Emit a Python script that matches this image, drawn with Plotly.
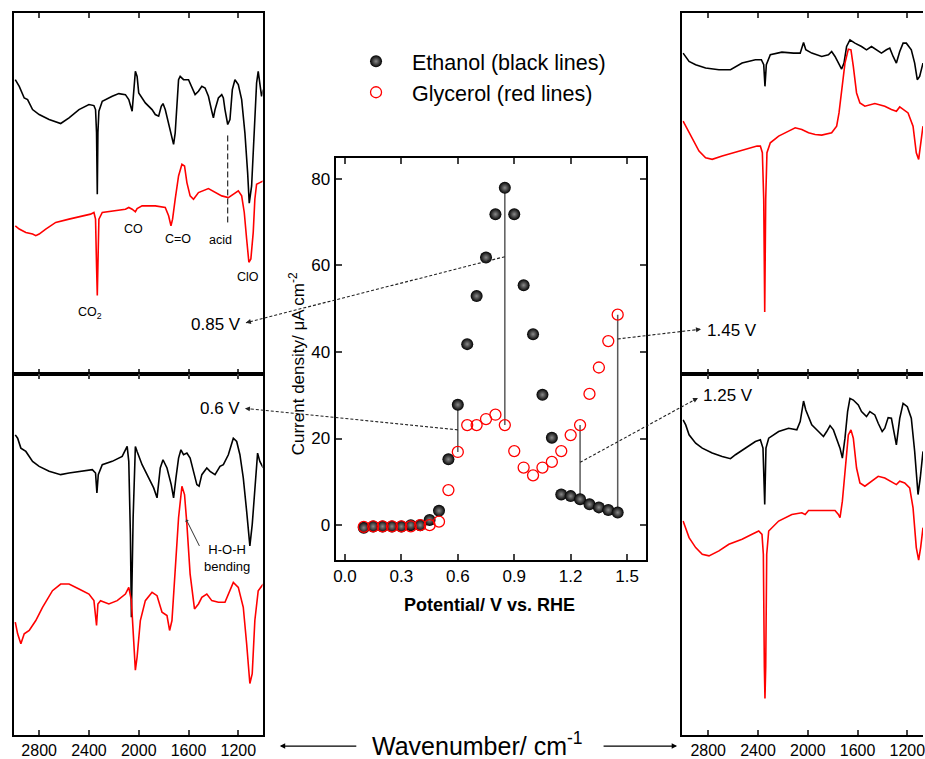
import plotly.graph_objects as go

W, H = 925, 759
FONT = "Liberation Sans, Arial, sans-serif"

# ---------------- centre plot data ----------------
potential = [0.10, 0.15, 0.20, 0.25, 0.30, 0.35, 0.40, 0.45, 0.50, 0.55, 0.60, 0.65, 0.70, 0.75,
             0.80, 0.85, 0.90, 0.95, 1.00, 1.05, 1.10, 1.15, 1.20, 1.25, 1.30, 1.35, 1.40, 1.45]
ethanol = [-0.6, -0.3, -0.3, -0.3, -0.3, 0.0, 0.0, 1.2, 3.3, 15.2, 27.8, 41.8, 52.9, 61.8,
           71.8, 77.9, 71.8, 55.4, 44.1, 30.1, 20.2, 7.1, 6.7, 6.0, 4.8, 4.1, 3.5, 2.9]
glycerol = [-0.4, -0.3, -0.3, -0.3, -0.3, -0.3, 0.0, 0.0, 0.8, 8.1, 16.9, 23.1, 23.1, 24.5,
            25.5, 23.1, 17.1, 13.3, 11.5, 13.3, 14.6, 17.1, 20.8, 23.1, 30.3, 36.4, 42.5, 48.6]
marked_potentials = [0.60, 0.85, 1.25, 1.45]
x_ticks = [0.0, 0.3, 0.6, 0.9, 1.2, 1.5]
y_ticks = [0, 20, 40, 60, 80]
wn_ticks = [2800, 2400, 2000, 1600, 1200]

# ---------------- spectra (wavenumber / cm-1, intensity a.u.) ----------------
# 0.85 V
lt_eth_wn = [2992, 2973, 2960, 2920, 2893, 2853, 2800, 2720, 2667, 2627, 2560, 2480, 2400, 2360, 2347, 2339, 2333, 2328, 2320, 2293,
             2213, 2160, 2107, 2080, 2053, 2040, 2027, 2013, 2000, 1947, 1893, 1867, 1840, 1819, 1805, 1787, 1760, 1739, 1720, 1707,
             1693, 1680, 1667, 1640, 1600, 1573, 1547, 1520, 1493, 1467, 1440, 1413, 1400, 1387, 1360, 1333, 1320, 1307, 1285, 1267,
             1248, 1227, 1200, 1173, 1147, 1125, 1112, 1093, 1072, 1053, 1040, 1027, 1013, 1000]
lt_eth_i = [960, 950, 940, 905, 900, 870, 855, 840, 834, 828, 845, 870, 885, 882, 870, 800, 615, 800, 865, 895,
            910, 918, 915, 900, 865, 920, 985, 970, 920, 890, 870, 855, 850, 880, 888, 870, 830, 790, 765, 800,
            880, 960, 970, 960, 960, 935, 915, 925, 940, 935, 910, 865, 845, 870, 905, 915, 905, 870, 825, 840,
            930, 960, 945, 900, 800, 680, 588, 640, 800, 950, 985, 950, 910, 930]
lt_gly_wn = [2992, 2960, 2907, 2853, 2827, 2800, 2747, 2667, 2560, 2453, 2387, 2360, 2347, 2339, 2333, 2328, 2320, 2293, 2187, 2107,
             2080, 2053, 2027, 2013, 1973, 1867, 1787, 1760, 1741, 1728, 1707, 1680, 1653, 1632, 1613, 1587, 1560, 1520, 1440, 1387,
             1333, 1280, 1240, 1200, 1173, 1152, 1133, 1115, 1099, 1080, 1067, 1053, 1027, 1000]
lt_gly_i = [520, 510, 500, 495, 490, 495, 510, 530, 540, 550, 555, 560, 540, 400, 310, 400, 540, 560, 565, 570,
            575, 570, 562, 572, 580, 580, 575, 550, 520, 540, 600, 670, 705, 700, 650, 610, 600, 620, 632, 622,
            610, 605, 615, 625, 610, 560, 480, 410, 420, 500, 600, 645, 650, 655]
# 0.6 V
lb_eth_wn = [2992, 2973, 2947, 2907, 2853, 2800, 2720, 2627, 2560, 2453, 2373, 2347, 2336, 2325, 2293, 2213, 2133, 2093, 2080, 2067,
             2059, 2045, 2035, 2027, 2013, 1973, 1920, 1880, 1853, 1827, 1805, 1773, 1739, 1720, 1701, 1680, 1661, 1640, 1613, 1587,
             1560, 1533, 1515, 1493, 1453, 1427, 1387, 1347, 1320, 1280, 1240, 1213, 1187, 1160, 1133, 1107, 1088, 1067, 1045, 1027,
             1000]
lb_eth_i = [1000, 990, 960, 950, 920, 905, 890, 880, 885, 890, 895, 885, 825, 880, 910, 920, 935, 965, 920, 700,
            450, 750, 900, 965, 950, 910, 870, 840, 810, 900, 925, 900, 850, 810, 870, 930, 955, 940, 945, 930,
            890, 850, 845, 880, 900, 890, 880, 905, 910, 940, 990, 980, 940, 870, 770, 665, 730, 850, 945, 920,
            900]
lb_gly_wn = [2992, 2973, 2947, 2920, 2880, 2827, 2773, 2693, 2627, 2560, 2480, 2400, 2360, 2347, 2339, 2328, 2307, 2240, 2173, 2107,
             2080, 2059, 2040, 2027, 2013, 1987, 1947, 1893, 1853, 1813, 1773, 1752, 1733, 1707, 1680, 1653, 1632, 1613, 1587, 1552,
             1520, 1493, 1453, 1413, 1360, 1307, 1267, 1240, 1200, 1160, 1133, 1107, 1088, 1067, 1040, 1000]
lb_gly_i = [435, 400, 370, 400, 410, 440, 480, 530, 550, 550, 535, 520, 500, 460, 425, 490, 500, 490, 500, 520,
            540, 500, 380, 290, 330, 440, 500, 525, 515, 465, 455, 410, 440, 580, 750, 845, 820, 730, 580, 475,
            490, 510, 520, 500, 495, 495, 530, 555, 540, 480, 370, 250, 280, 440, 530, 550]
# 1.45 V
rt_eth_wn = [3002, 2981, 2954, 2901, 2821, 2714, 2621, 2528, 2421, 2373, 2354, 2344, 2333, 2301, 2208, 2114, 2061, 2034, 2016, 1968,
             1888, 1834, 1808, 1781, 1754, 1728, 1709, 1688, 1661, 1621, 1568, 1528, 1488, 1448, 1408, 1368, 1341, 1314, 1288, 1261,
             1234, 1208, 1168, 1141, 1120, 1101, 1074]
rt_eth_i = [1040, 1030, 1015, 1005, 995, 990, 990, 1010, 1020, 1020, 1005, 940, 1005, 1035, 1043, 1040, 1040, 1072, 1050, 1040,
            1030, 1035, 1045, 1030, 1010, 992, 1010, 1060, 1080, 1070, 1060, 1050, 1060, 1050, 1040, 1050, 1055, 1030, 1010, 1045,
            1070, 1070, 1050, 1010, 960, 970, 1010]
rt_gly_wn = [3002, 2968, 2928, 2874, 2821, 2768, 2688, 2581, 2474, 2408, 2381, 2365, 2354, 2346, 2338, 2328, 2301, 2234, 2154, 2101,
             2048, 1994, 1941, 1888, 1808, 1768, 1749, 1728, 1701, 1674, 1653, 1634, 1608, 1581, 1541, 1461, 1381, 1328, 1288, 1261,
             1234, 1194, 1154, 1128, 1109, 1093, 1074]
rt_gly_i = [835, 810, 780, 745, 725, 720, 730, 742, 752, 760, 760, 740, 600, 260, 600, 740, 770, 790, 805, 815,
            810, 800, 795, 793, 800, 820, 860, 930, 1010, 1052, 1050, 1000, 920, 890, 880, 888, 880, 870, 865, 878,
            870, 860, 820, 740, 720, 760, 820]
# 1.25 V
rb_eth_wn = [3002, 2981, 2954, 2901, 2848, 2768, 2688, 2621, 2581, 2501, 2421, 2381, 2360, 2346, 2336, 2314, 2234, 2154, 2088, 2061,
             2034, 2016, 1968, 1914, 1874, 1848, 1821, 1794, 1768, 1741, 1722, 1701, 1680, 1661, 1634, 1594, 1568, 1528, 1501, 1461,
             1434, 1402, 1381, 1354, 1328, 1301, 1288, 1261, 1234, 1200, 1168, 1141, 1114, 1096, 1074]
rb_eth_i = [1045, 1030, 1000, 975, 960, 945, 935, 928, 940, 960, 980, 985, 960, 790, 960, 990, 1010, 1020, 1015, 1040,
            1102, 1075, 1030, 1010, 995, 1010, 1028, 1015, 985, 960, 930, 990, 1070, 1110, 1105, 1090, 1070, 1055, 1070, 1060,
            1035, 1010, 1020, 1052, 1050, 990, 970, 1050, 1095, 1085, 1050, 950, 820, 870, 950]
rb_gly_wn = [3002, 2981, 2954, 2901, 2848, 2794, 2714, 2634, 2528, 2448, 2394, 2368, 2357, 2349, 2344, 2338, 2330, 2314, 2234, 2128,
             2048, 2021, 1994, 1888, 1781, 1754, 1741, 1722, 1701, 1674, 1653, 1634, 1608, 1581, 1541, 1488, 1434, 1381, 1328, 1288,
             1261, 1221, 1181, 1154, 1128, 1109, 1093, 1074]
rb_gly_i = [740, 720, 690, 660, 640, 635, 650, 670, 685, 700, 710, 700, 640, 300, 205, 300, 640, 710, 740, 760,
            765, 760, 772, 772, 772, 760, 750, 800, 900, 1000, 1015, 990, 900, 855, 845, 860, 875, 870, 860, 850,
            860, 855, 840, 780, 660, 622, 660, 720]

BLACK, RED = "#000000", "#ff0000"

# ---------------- geometry helpers (pixel -> paper) ----------------
def px(x):
    return x / W

def py(y):
    return 1 - y / H

C_DOM_X = (335, 646.7)
C_DOM_Y = (159, 562)
C_RX = (-0.05, 1.6)
C_RY = (-8.0, 84.7)

def center_to_px(xv, yv):
    x = C_DOM_X[0] + (xv - C_RX[0]) / (C_RX[1] - C_RX[0]) * (C_DOM_X[1] - C_DOM_X[0])
    y = C_DOM_Y[1] - (yv - C_RY[0]) / (C_RY[1] - C_RY[0]) * (C_DOM_Y[1] - C_DOM_Y[0])
    return x, y

fig = go.Figure()

# connectors
for p in marked_potentials:
    i = min(range(len(potential)), key=lambda k: abs(potential[k] - p))
    fig.add_trace(go.Scatter(x=[potential[i], potential[i]], y=[ethanol[i], glycerol[i]], mode="lines",
                             line=dict(color="#5a5a5a", width=1.5), showlegend=False, hoverinfo="skip",
                             xaxis="x", yaxis="y"))

fig.add_trace(go.Scatter(x=potential, y=ethanol, mode="markers", name="Ethanol (black lines)",
                         marker=dict(symbol="circle", size=12, color="#000000",
                                     gradient=dict(type="radial", color="#8a8a8a"),
                                     line=dict(width=0)),
                         xaxis="x", yaxis="y"))
fig.add_trace(go.Scatter(x=potential, y=glycerol, mode="markers", name="Glycerol (red lines)",
                         marker=dict(symbol="circle-open", size=11, color=RED, line=dict(width=1.3)),
                         xaxis="x", yaxis="y"))

spectra = [
    ("x2", "y2", lt_eth_wn, lt_eth_i, BLACK), ("x2", "y2", lt_gly_wn, lt_gly_i, RED),
    ("x3", "y3", lb_eth_wn, lb_eth_i, BLACK), ("x3", "y3", lb_gly_wn, lb_gly_i, RED),
    ("x4", "y4", rt_eth_wn, rt_eth_i, BLACK), ("x4", "y4", rt_gly_wn, rt_gly_i, RED),
    ("x5", "y5", rb_eth_wn, rb_eth_i, BLACK), ("x5", "y5", rb_gly_wn, rb_gly_i, RED),
]
for xa, ya, xs, ys, col in spectra:
    fig.add_trace(go.Scatter(x=xs, y=ys, mode="lines", line=dict(color=col, width=1.6),
                             showlegend=False, hoverinfo="skip", xaxis=xa, yaxis=ya))

axis_common = dict(showgrid=False, zeroline=False, showline=True, linecolor="black", linewidth=2)

LEFT_X = (11.7, 261.7)
RIGHT_X = (683.3, 925)
TOP_Y = (13, 375)
BOT_Y = (375, 737.5)

def xdom(a):
    return [px(a[0]), px(a[1])]

def ydom(a):
    return [py(a[1]), py(a[0])]

layout = dict(
    width=W, height=H, margin=dict(l=0, r=0, t=0, b=0),
    paper_bgcolor="white", plot_bgcolor="white",
    font=dict(family=FONT, color="black"),
    xaxis=dict(**axis_common, domain=xdom(C_DOM_X), range=list(C_RX), tickvals=x_ticks, tickformat=".1f",
               ticks="inside", ticklen=6, tickwidth=2, mirror="ticks", tickfont=dict(size=17), anchor="y"),
    yaxis=dict(**axis_common, domain=ydom(C_DOM_Y), range=list(C_RY), tickvals=y_ticks,
               ticks="inside", ticklen=6, tickwidth=2, mirror="ticks", tickfont=dict(size=17), anchor="x"),
    showlegend=True,
    legend=dict(x=px(339.5), y=py(41), xanchor="left", yanchor="top", font=dict(size=21.5, family=FONT),
                bgcolor="rgba(0,0,0,0)", tracegroupgap=0, itemsizing="trace", itemwidth=62),
)
panels = [("2", LEFT_X, TOP_Y, [3005, 1005], [75, 1161], False, True),
          ("3", LEFT_X, BOT_Y, [3005, 1005], [96, 1185], True, True),
          ("4", RIGHT_X, TOP_Y, [3008, 1074], [75, 1161], False, False),
          ("5", RIGHT_X, BOT_Y, [3008, 1074], [96, 1185], True, False)]
for n, dx, dy, rx, ry, labels, mir in panels:
    layout["xaxis" + n] = dict(**axis_common, domain=xdom(dx), range=rx, tickvals=wn_ticks, ticks="inside",
                               ticklen=5, tickwidth=1.5, mirror="ticks", showticklabels=labels,
                               ticklabeloverflow="allow", tickfont=dict(size=16), anchor="y" + n)
    layout["yaxis" + n] = dict(**axis_common, domain=ydom(dy), range=ry, showticklabels=False, ticks="",
                               mirror=mir, anchor="x" + n)
fig.update_layout(**layout)

ann = []
shapes = []

def text(x, y, s, size, xanchor="center", textangle=0):
    ann.append(dict(x=px(x), y=py(y), xref="paper", yref="paper", text=s, showarrow=False,
                    xanchor=xanchor, yanchor="middle", font=dict(size=size, family=FONT, color="black"),
                    textangle=textangle))

# axis titles of centre plot
text(490, 607, "<b>Potential/ V vs. RHE</b>", 18)
text(296, 365, "Current density/ μA cm<sup>-2</sup>", 17, textangle=-90)
text(478, 747, "Wavenumber/ cm<sup>-1</sup>", 25)

# peak labels
text(131.7, 230, "CO", 12.5)
text(176.7, 240, "C=O", 12.5)
text(219.3, 241, "acid", 12.5)
text(247.3, 278, "ClO", 12.5)
text(88.3, 314, "CO<sub>2</sub>", 12.5)
text(226, 560, "H-O-H<br>bending", 13)

# potential labels
text(242, 326, "0.85 V", 17, xanchor="right")
text(241, 410, "0.6 V", 17, xanchor="right")
text(706, 332, "1.45 V", 17, xanchor="left")
text(702, 397, "1.25 V", 17, xanchor="left")

# dashed pointers from the centre plot to the spectra labels
pointers = [((245, 324), (0.85, 62.0)), ((244, 410), (0.60, 22.0)),
            ((702, 330.5), (1.45, 43.0)), ((699, 399.5), (1.25, 14.5))]
for (hx, hy), (dxv, dyv) in pointers:
    tx, ty = center_to_px(dxv, dyv)
    shapes.append(dict(type="line", xref="paper", yref="paper", x0=px(tx), y0=py(ty), x1=px(hx), y1=py(hy),
                       line=dict(color="#222222", width=1.1, dash="3px,2px")))
    L = ((tx - hx) ** 2 + (ty - hy) ** 2) ** 0.5
    ann.append(dict(x=px(hx), y=py(hy), xref="paper", yref="paper", text="", showarrow=True,
                    ax=(tx - hx) / L * 7, ay=(ty - hy) / L * 7, arrowhead=2, arrowsize=0.9,
                    arrowwidth=1.1, arrowcolor="#222222", standoff=0))

# H-O-H arrow
ann.append(dict(x=1619, y=745, xref="x3", yref="y3", text="", showarrow=True, ax=14, ay=28,
                arrowhead=1, arrowsize=0.7, arrowwidth=1, arrowcolor="#333333", standoff=0))
# acid dashed marker
shapes.append(dict(type="line", xref="x2", yref="y2", x0=1285, x1=1285, y0=530, y1=800,
                   line=dict(color="black", width=1, dash="6px,3px")))

# Wavenumber arrows
ann.append(dict(x=px(279), y=py(749), xref="paper", yref="paper", text="", showarrow=True, ax=78, ay=0,
                arrowhead=2, arrowsize=0.9, arrowwidth=1.2, arrowcolor="black", standoff=0))
ann.append(dict(x=px(678), y=py(749), xref="paper", yref="paper", text="", showarrow=True, ax=-75, ay=0,
                arrowhead=2, arrowsize=0.9, arrowwidth=1.2, arrowcolor="black", standoff=0))

fig.update_layout(annotations=ann, shapes=shapes)
fig.write_html("out.html", config={"displayModeBar": False},
               post_script=("document.body.style.margin='0';document.body.style.padding='0';"
                            "document.body.style.overflow='hidden';"
                            "document.documentElement.style.overflow='hidden';"))
